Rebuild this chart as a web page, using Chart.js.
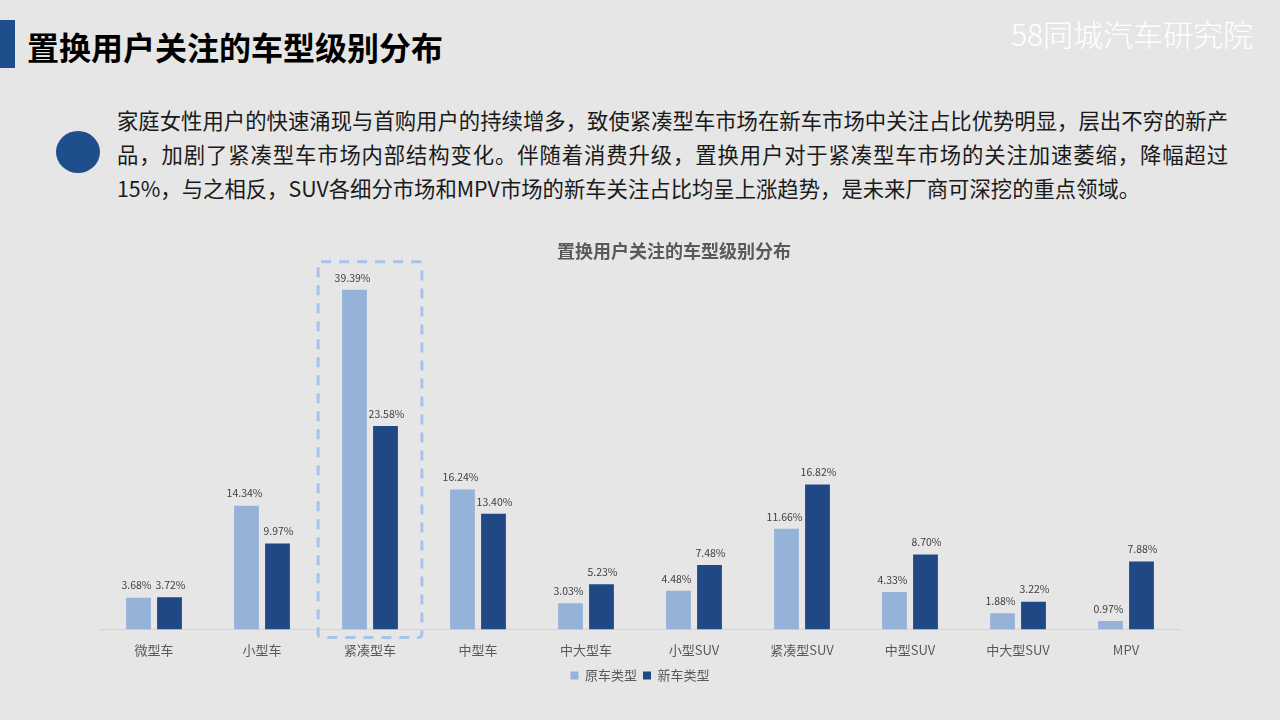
<!DOCTYPE html>
<html>
<head>
<meta charset="utf-8">
<script src="https://cdn.jsdelivr.net/npm/chart.js@4"></script>
<style>
  body { margin: 0; width: 1280px; height: 720px; background: #e6e6e6; position: relative; overflow: hidden;
         font-family: "Noto Sans CJK SC", "Noto Sans", sans-serif; }
  #bar { position: absolute; left: 0; top: 20px; width: 15px; height: 48px; background: #1f4e8c; }
  #title { position: absolute; left: 27px; top: 26px; font-size: 32px; font-weight: bold; color: #000; line-height: 40px; white-space: nowrap; }
  #logo { position: absolute; left: 1011px; top: 11px; font-size: 30px; font-weight: 300; color: #fff; line-height: 44px; white-space: nowrap; }
  #dot { position: absolute; left: 56px; top: 131px; width: 44px; height: 42px; border-radius: 50%; background: #1f4e8c; }
  #text { position: absolute; left: 117px; top: 103px; width: 1111px; font-size: 21.35px; color: #1a1a1a; line-height: 34px; white-space: nowrap; }
  #text .j { text-align: justify; text-align-last: justify; white-space: normal; }
  #plot { position: absolute; left: 100px; top: 230px; }
</style>
</head>
<body>
<div id="bar"></div>
<div id="title">置换用户关注的车型级别分布</div>
<div id="logo">58同城汽车研究院</div>
<div id="dot"></div>
<div id="text">
  <div class="j">家庭女性用户的快速涌现与首购用户的持续增多，致使紧凑型车市场在新车市场中关注占比优势明显，层出不穷的新产</div>
  <div class="j">品，加剧了紧凑型车市场内部结构变化。伴随着消费升级，置换用户对于紧凑型车市场的关注加速萎缩，降幅超过</div>
  <div>15%，与之相反，SUV各细分市场和MPV市场的新车关注占比均呈上涨趋势，是未来厂商可深挖的重点领域。</div>
</div>
<canvas id="plot" width="1148" height="470"></canvas>
<script>
const categories = ['微型车', '小型车', '紧凑型车', '中型车', '中大型车', '小型SUV', '紧凑型SUV', '中型SUV', '中大型SUV', 'MPV'];
const oldCar = [3.68, 14.34, 39.39, 16.24, 3.03, 4.48, 11.66, 4.33, 1.88, 0.97];
const newCar = [3.72, 9.97, 23.58, 13.40, 5.23, 7.48, 16.82, 8.70, 3.22, 7.88];
const highlightIndex = 2;

const fontFamily = '"Noto Sans CJK SC", "Noto Sans", sans-serif';

// value labels above every bar
const valueLabels = {
    id: 'valueLabels',
    afterDatasetsDraw(chart) {
        const ctx = chart.ctx;
        ctx.save();
        ctx.font = '10.5px ' + fontFamily;
        ctx.fillStyle = '#404040';
        ctx.textAlign = 'center';
        ctx.textBaseline = 'bottom';
        chart.data.datasets.forEach((ds, i) => {
            chart.getDatasetMeta(i).data.forEach((bar, j) => {
                const shift = i === 0 ? -2 : 1;
                ctx.fillText(ds.data[j].toFixed(2) + '%', bar.x + shift, bar.y - 7);
            });
        });
        ctx.restore();
    }
};

// dashed box round the highlighted category
const highlightBox = {
    id: 'highlightBox',
    afterDatasetsDraw(chart) {
        const ctx = chart.ctx;
        const x = chart.scales.x;
        const y = chart.scales.y;
        const cx = x.getPixelForValue(highlightIndex);
        const half = (x.getPixelForValue(1) - x.getPixelForValue(0)) * 0.48;
        const top = y.getPixelForValue(Math.max(oldCar[highlightIndex], newCar[highlightIndex])) - 28;
        const bottom = y.getPixelForValue(0) + 8;
        ctx.save();
        ctx.strokeStyle = '#a8c3ea';
        ctx.lineWidth = 3;
        ctx.setLineDash([10, 8]);
        ctx.beginPath();
        ctx.roundRect(cx - half, top, half * 2, bottom - top, 3);
        ctx.stroke();
        ctx.restore();
    }
};

new Chart(document.getElementById('plot'), {
    type: 'bar',
    data: {
        labels: categories,
        datasets: [
            { label: '原车类型', data: oldCar, backgroundColor: '#95b3d9' },
            { label: '新车类型', data: newCar, backgroundColor: '#1f4884' }
        ]
    },
    options: {
        responsive: false,
        animation: false,
        layout: { padding: { left: 0, right: 0, bottom: 8 } },
        datasets: { bar: { categoryPercentage: 0.574, barPercentage: 0.8 } },
        plugins: {
            title: {
                display: true,
                text: '置换用户关注的车型级别分布',
                color: '#595959',
                font: { size: 18, weight: 'bold', family: fontFamily },
                padding: { top: 10, bottom: 10 }
            },
            legend: {
                position: 'bottom',
                fullSize: false,
                labels: {
                    boxWidth: 8, boxHeight: 8, padding: 6,
                    color: '#595959',
                    font: { size: 13, family: fontFamily }
                }
            },
            tooltip: { enabled: false }
        },
        scales: {
            x: {
                grid: { display: false },
                border: { color: '#d4d4d4' },
                ticks: { color: '#595959', padding: 5, font: { size: 13, family: fontFamily } }
            },
            y: {
                display: false,
                min: 0,
                max: 41.5
            },
            spacer: {
                position: 'right',
                grid: { display: false },
                border: { display: false },
                ticks: { display: false },
                afterFit(scale) { scale.width = 68; }
            }
        }
    },
    plugins: [valueLabels, highlightBox]
});
</script>
</body>
</html>
